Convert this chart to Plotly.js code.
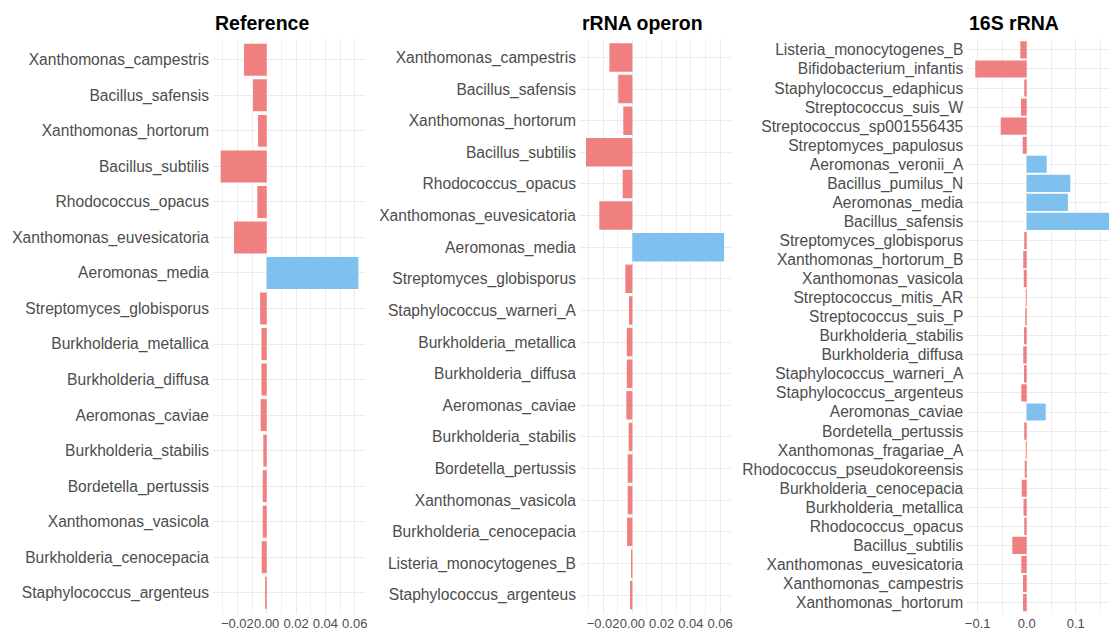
<!DOCTYPE html>
<html>
<head>
<meta charset="utf-8">
<script src="https://cdn.plot.ly/plotly-3.0.1.min.js"></script>
<style>
  html, body { margin: 0; padding: 0; background: #ffffff; overflow: hidden; }
  #chart { width: 1109px; height: 631px; }
</style>
</head>
<body>
<div id="chart"></div>
<script>
// Panel: Reference
const refSpecies = [
  "Xanthomonas_campestris", "Bacillus_safensis", "Xanthomonas_hortorum", "Bacillus_subtilis",
  "Rhodococcus_opacus", "Xanthomonas_euvesicatoria", "Aeromonas_media", "Streptomyces_globisporus",
  "Burkholderia_metallica", "Burkholderia_diffusa", "Aeromonas_caviae", "Burkholderia_stabilis",
  "Bordetella_pertussis", "Xanthomonas_vasicola", "Burkholderia_cenocepacia", "Staphylococcus_argenteus"
];
const refValues = [
  -0.0155, -0.0093, -0.0059, -0.0314,
  -0.0064, -0.0223, 0.0625, -0.0045,
  -0.0036, -0.0036, -0.0041, -0.0023,
  -0.0027, -0.0027, -0.0034, -0.0011
];

// Panel: rRNA operon
const operonSpecies = [
  "Xanthomonas_campestris", "Bacillus_safensis", "Xanthomonas_hortorum", "Bacillus_subtilis",
  "Rhodococcus_opacus", "Xanthomonas_euvesicatoria", "Aeromonas_media", "Streptomyces_globisporus",
  "Staphylococcus_warneri_A", "Burkholderia_metallica", "Burkholderia_diffusa", "Aeromonas_caviae",
  "Burkholderia_stabilis", "Bordetella_pertussis", "Xanthomonas_vasicola", "Burkholderia_cenocepacia",
  "Listeria_monocytogenes_B", "Staphylococcus_argenteus"
];
const operonValues = [
  -0.0157, -0.0096, -0.0062, -0.0317,
  -0.0066, -0.0226, 0.0628, -0.0048,
  -0.0023, -0.0038, -0.0038, -0.0041,
  -0.0025, -0.0032, -0.0032, -0.0036,
  -0.0009, -0.0016
];

// Panel: 16S rRNA
const s16Species = [
  "Listeria_monocytogenes_B", "Bifidobacterium_infantis", "Staphylococcus_edaphicus", "Streptococcus_suis_W",
  "Streptococcus_sp001556435", "Streptomyces_papulosus", "Aeromonas_veronii_A", "Bacillus_pumilus_N",
  "Aeromonas_media", "Bacillus_safensis", "Streptomyces_globisporus", "Xanthomonas_hortorum_B",
  "Xanthomonas_vasicola", "Streptococcus_mitis_AR", "Streptococcus_suis_P", "Burkholderia_stabilis",
  "Burkholderia_diffusa", "Staphylococcus_warneri_A", "Staphylococcus_argenteus", "Aeromonas_caviae",
  "Bordetella_pertussis", "Xanthomonas_fragariae_A", "Rhodococcus_pseudokoreensis", "Burkholderia_cenocepacia",
  "Burkholderia_metallica", "Rhodococcus_opacus", "Bacillus_subtilis", "Xanthomonas_euvesicatoria",
  "Xanthomonas_campestris", "Xanthomonas_hortorum"
];
const s16Values = [
  -0.013, -0.105, -0.005, -0.0116,
  -0.053, -0.0082, 0.0408, 0.089,
  0.084, 0.219, -0.005, -0.007,
  -0.006, -0.002, -0.003, -0.0055,
  -0.007, -0.0055, -0.011, 0.0388,
  -0.005, -0.002, -0.004, -0.010,
  -0.0065, -0.005, -0.0293, -0.011,
  -0.0075, -0.0075
];

const panelTitles = ["Reference", "rRNA operon", "16S rRNA"];

(function () {
  const W = 1109, H = 631;
  const POS = "#7FC1EE", NEG = "#F08080";
  const GRID = "#EBEBEB";
  const FONT = "Liberation Sans, Arial, sans-serif";

  // panel geometry in pixels
  const panels = [
    { cats: refSpecies,    vals: refValues,    left: 213,   right: 365,  range: [-0.0366, 0.0670], dtick: 0.02, minor: 0.01, fmt: ".2f" },
    { cats: operonSpecies, vals: operonValues, left: 580,   right: 731,  range: [-0.0358, 0.0675], dtick: 0.02, minor: 0.01, fmt: ".2f" },
    { cats: s16Species,    vals: s16Values,    left: 967.3, right: 1109, range: [-0.1212, 0.1680], dtick: 0.1,  minor: 0.05, fmt: ".1f" }
  ];
  const panelTop = 38.5, panelBottom = 614;

  const data = [];
  const layout = {
    width: W, height: H,
    margin: { l: 0, r: 0, t: 0, b: 0, pad: 0 },
    paper_bgcolor: "#ffffff",
    plot_bgcolor: "#ffffff",
    showlegend: false,
    bargap: 0.1,
    font: { family: FONT, color: "#4D4D4D" },
    annotations: []
  };

  panels.forEach((p, i) => {
    const n = i + 1;
    const xa = n === 1 ? "x" : "x" + n;
    const ya = n === 1 ? "y" : "y" + n;
    data.push({
      type: "bar",
      orientation: "h",
      x: p.vals,
      y: p.cats,
      xaxis: xa,
      yaxis: ya,
      width: 0.9,
      marker: { color: p.vals.map(v => v >= 0 ? POS : NEG), line: { width: 0 } },
      hoverinfo: "skip"
    });
    const dom = [p.left / W, Math.min(1, p.right / W)];
    layout["xaxis" + (n === 1 ? "" : n)] = {
      domain: dom,
      anchor: ya,
      range: p.range,
      tick0: 0,
      dtick: p.dtick,
      tickformat: p.fmt,
      tickangle: 0,
      ticks: "",
      showline: false,
      zeroline: false,
      showgrid: true,
      gridcolor: GRID,
      gridwidth: 1,
      minor: { dtick: p.minor, tick0: 0, showgrid: true, gridcolor: "#EFEFEF", gridwidth: 1 },
      tickfont: { family: FONT, size: 13, color: "#4D4D4D" },
      fixedrange: true
    };
    layout["yaxis" + (n === 1 ? "" : n)] = {
      domain: [(H - panelBottom) / H, (H - panelTop) / H],
      anchor: xa,
      type: "category",
      categoryorder: "array",
      categoryarray: p.cats,
      range: [p.cats.length - 0.4, -0.6],
      ticks: "",
      ticklabelstandoff: 3,
      showline: false,
      zeroline: false,
      showgrid: true,
      gridcolor: GRID,
      gridwidth: 1,
      tickfont: { family: FONT, size: 15.6, color: "#4D4D4D" },
      fixedrange: true
    };
    layout.annotations.push({
      text: "<b>" + panelTitles[i] + "</b>",
      xref: "paper", yref: "paper",
      x: p.left / W, y: (H - 23) / H,
      xanchor: "left", yanchor: "middle",
      showarrow: false,
      font: { family: FONT, size: 19.5, color: "#000000" }
    });
  });

  Plotly.newPlot("chart", data, layout, { staticPlot: true, displayModeBar: false });
})();
</script>
</body>
</html>
